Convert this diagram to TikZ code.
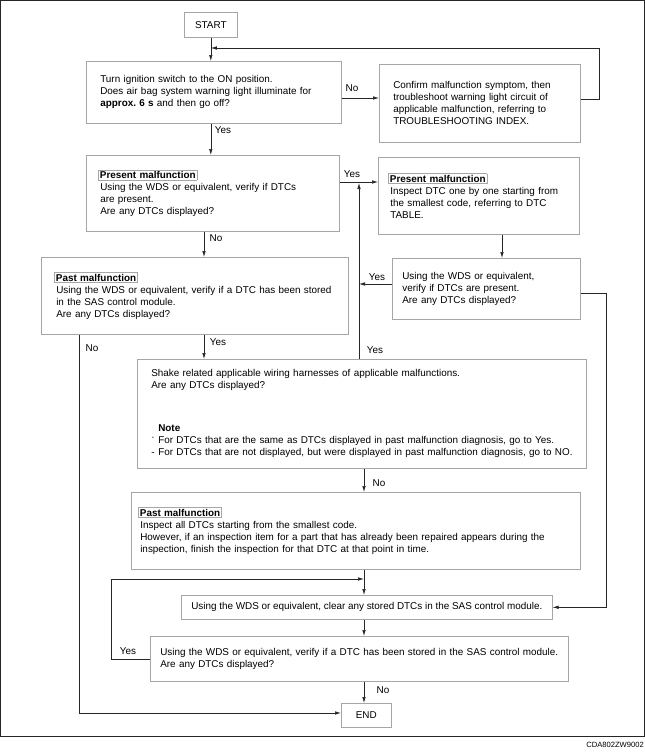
\documentclass[tikz,border=0pt]{standalone}
\usepackage{fontspec}
\setmainfont{Liberation Sans}
\usetikzlibrary{arrows.meta}
\frenchspacing

\tikzset{
	box/.style={draw=gray!70, line width=0.6pt, anchor=north west, align=left,
		inner ysep=0pt, font=\fontsize{9.9}{12}\selectfont},
	lbl/.style={inner sep=0pt, font=\fontsize{9.9}{12}\selectfont},
	arr/.style={-{Latex[length=6pt,width=3.5pt]}, black!85, line width=0.6pt},
	ln/.style={black!85, line width=0.6pt}
}
\newcommand{\malf}[1]{\kern-2pt{\setlength{\fboxsep}{1.2pt}\fcolorbox{gray!70}{white}{\textbf{#1}}}}
\newcommand{\ind}{\hspace*{7pt}}

\begin{document}
\begin{tikzpicture}[x=1pt, y=-1pt]
		\useasboundingbox (0,0) rectangle (645,756);
		\draw[line width=1pt, black!85] (0.5,0.5) rectangle (644,736);
		\node[anchor=east, inner sep=0pt, font=\fontsize{7.6}{9}\selectfont] (code) at (644,745) {CDA802ZW9002};
		
		\node[box, align=center, minimum width=53pt, minimum height=25pt] (start) at (184,12) {START};
		
		\node[box, text width=227pt, inner xsep=14pt, minimum height=62pt] (ign) at (86,61)
			{Turn ignition switch to the ON position.\\
			Does air bag system warning light illuminate for\\
			\textbf{approx.\ 6 s} and then go off?};
		\node[box, text width=173pt, inner xsep=14pt, minimum height=78pt] (conf) at (379,64)
			{Confirm malfunction symptom, then\\
			troubleshoot warning light circuit of\\
			applicable malfunction, referring to\\
			TROUBLESHOOTING INDEX.};
		
		\node[box, text width=225pt, inner xsep=14pt, minimum height=76pt] (pres) at (86,155)
			{\malf{Present malfunction}\\
			Using the WDS or equivalent, verify if DTCs\\
			are present.\\
			Are any DTCs displayed?};
		\node[box, text width=177pt, inner xsep=12pt, minimum height=77pt] (insp) at (378,157)
			{\malf{Present malfunction}\\
			Inspect DTC one by one starting from\\
			the smallest code, referring to DTC\\
			TABLE.};
		\node[box, text width=168pt, inner xsep=10pt, minimum height=61pt] (chk) at (392,258)
			{Using the WDS or equivalent,\\
			verify if DTCs are present.\\
			Are any DTCs displayed?};
		
		\node[box, text width=277pt, inner xsep=15pt, minimum height=77pt] (past) at (41,257)
			{\malf{Past malfunction}\\
			Using the WDS or equivalent, verify if a DTC has been stored\\
			in the SAS control module.\\
			Are any DTCs displayed?};
		
		\node[box, text width=435pt, inner xsep=7pt, minimum height=109pt] (shake) at (137,359)
			{\ind Shake related applicable wiring harnesses of applicable malfunctions.\\
			\ind Are any DTCs displayed?\\[31pt]
			\ind\hspace*{7pt}\textbf{Note}\\
			\ind\makebox[7pt][l]{\raisebox{3pt}{\textperiodcentered}}For DTCs that are the same as DTCs displayed in past malfunction diagnosis, go to Yes.\\
			\ind\makebox[7pt][l]{-}For DTCs that are not displayed, but were displayed in past malfunction diagnosis, go to NO.};
		
		\node[box, text width=431pt, inner xsep=9pt, minimum height=77pt] (insp2) at (131,492)
			{\malf{Past malfunction}\\
			Inspect all DTCs starting from the smallest code.\\
			However, if an inspection item for a part that has already been repaired appears during the\\
			inspection, finish the inspection for that DTC at that point in time.};
		
		\node[box, align=center, minimum width=371pt, minimum height=24pt] (clr) at (181,595)
			{Using the WDS or equivalent, clear any stored DTCs in the SAS control module.};
		\node[box, text width=398pt, inner xsep=10pt, minimum height=45pt] (ver) at (150,636)
			{Using the WDS or equivalent, verify if a DTC has been stored in the SAS control module.\\
			Are any DTCs displayed?};
		
		\node[box, align=center, minimum width=50pt, minimum height=24pt] (fin) at (341,703) {END};
		
		%========================================================================
		% Corners and rows
		\coordinate (cA) at (204,0);
		\coordinate (cB) at (359,0);
		\coordinate (cC) at (364,0);
		\coordinate (cD) at (502,0);
		\coordinate (cE) at (599,48);
		\coordinate (cF) at (606,0);
		\coordinate (cG) at (79,713);
		\coordinate (cH) at (111,579);
		\coordinate (rA) at (0,98);
		\coordinate (rB) at (0,182);
		\coordinate (rC) at (0,284);
		\coordinate (rD) at (0,293);
		\coordinate (rE) at (0,99);
		
		%========================================================================
		% Arrows
		\draw[arr] (start.south) -- (start.south |- ign.north);
		\draw[arr] (ign.east |- rA) -- (conf.west |- rA);
		\draw[arr] (conf.east |- rE) -- (cE |- rE) -- (cE) -- (start.south |- cE);
		\draw[arr] (start.south |- ign.south) -- (start.south |- pres.north);
		\draw[arr] (pres.east |- rB) -- (insp.west |- rB);
		\draw[arr] (pres.south -| cA) -- (past.north -| cA);
		\draw[arr] (past.south -| cA) -- (shake.north -| cA);
		\draw[arr] (past.south -| cG) -- (cG) -- (cG -| fin.west);
		\draw[arr, shorten >=1pt] (shake.north -| cB) -- (cB |- rB);
		\draw[arr] (insp.south -| cD) -- (chk.north -| cD);
		\draw[arr] (chk.west |- rC) -- (cB |- rC);
		\draw[arr] (chk.east |- rD) -- (cF |- rD) -- (cF |- clr.east) -- (clr.east);
		\draw[arr] (shake.south -| cC) -- (insp2.north -| cC);
		\draw[arr] (insp2.south -| cC) -- (clr.north -| cC);
		\draw[arr] (clr.south -| cC) -- (ver.north -| cC);
		\draw[arr] (ver.west) -- (ver.west -| cH) -- (cH) -- (cC |- cH);
		\draw[arr] (ver.south -| cC) -- (fin.north -| cC);
		
		% Labels
		\node[lbl] (no1) at (352,88) {No};
		\node[lbl] (yes1) at (223,130) {Yes};
		\node[lbl] (yes2) at (352,174) {Yes};
		\node[lbl] (no2) at (216,238) {No};
		\node[lbl] (yes3) at (377,277) {Yes};
		\node[lbl] (yes4) at (218,342) {Yes};
		\node[lbl] (no3) at (92,348) {No};
		\node[lbl] (yes5) at (375,350) {Yes};
		\node[lbl] (no4) at (379,483) {No};
		\node[lbl] (yes6) at (128,651) {Yes};
		\node[lbl] (no5) at (383,690) {No};
	\end{tikzpicture}
\end{document}
